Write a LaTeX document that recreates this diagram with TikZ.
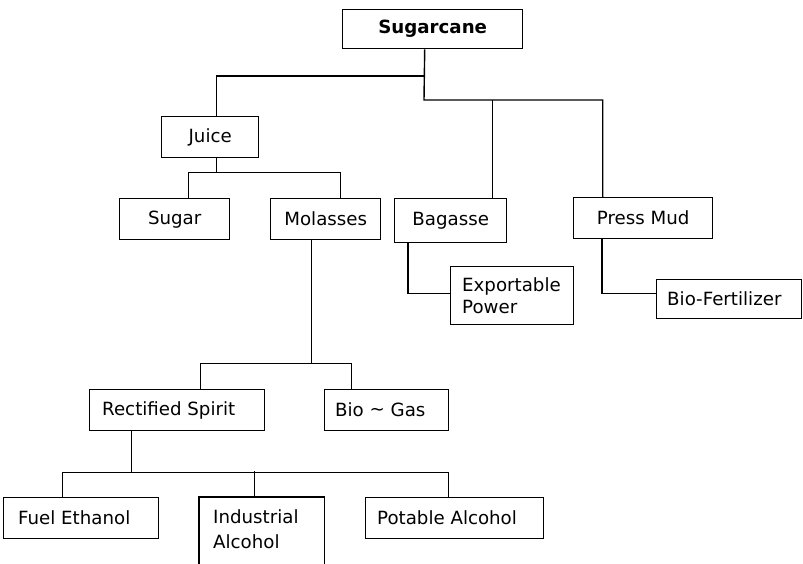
\documentclass[tikz,border=0pt]{standalone}
\usepackage{fontspec}
\setmainfont{DejaVu Sans}
\begin{document}
\begin{tikzpicture}[x=1pt,y=-1pt,
  every node/.style={font=\fontsize{18.2}{22}\selectfont},
  cbox/.style={draw, line width=1.4pt, anchor=north west, inner sep=0pt, align=center},
  ebox/.style={draw, line width=1.4pt, anchor=north west, inner sep=0pt},
  txt/.style={inner sep=0pt, align=left},
  conn/.style={line width=1.4pt}]
\useasboundingbox (0,0) rectangle (803,563);
% centred boxes
\node[cbox, minimum width=180pt, minimum height=39pt, font=\fontsize{18.2}{22}\selectfont\bfseries] (sug) at (342,9) {Sugarcane};
\node[cbox, minimum width=97pt, minimum height=41pt] (juice) at (161,116) {Juice};
\node[cbox, minimum width=110pt, minimum height=41pt] (sugar) at (119,198) {Sugar};
\node[cbox, minimum width=110pt, minimum height=41pt] (mol) at (270,198) {Molasses};
\node[cbox, minimum width=112pt, minimum height=44pt] (bag) at (394,198) {Bagasse};
\node[cbox, minimum width=139pt, minimum height=41pt] (press) at (573,197) {Press Mud};
% boxes with left-set text
\node[ebox, minimum width=123pt, minimum height=58pt] (exp) at (450,266) {};
\node[txt, anchor=west] (expT) at ([xshift=12pt]exp.west) {Exportable\\Power};
\node[ebox, minimum width=145pt, minimum height=39pt] (biof) at (656,279) {};
\node[txt, anchor=west] (biofT) at ([xshift=11pt]biof.west) {Bio-Fertilizer};
\node[ebox, minimum width=175pt, minimum height=41pt] (rect) at (89,389) {};
\node[txt, anchor=west] (rectT) at ([xshift=13pt]rect.west) {Rectified Spirit};
\node[ebox, minimum width=124pt, minimum height=41pt] (biogas) at (324,389) {};
\node[txt, anchor=west] (biogasT) at ([xshift=11pt]biogas.west) {Bio {\raisebox{0.1ex}{\char"007E}} Gas};
\node[ebox, minimum width=155pt, minimum height=41pt] (fuel) at (3,497) {};
\node[txt, anchor=west] (fuelT) at ([xshift=15pt]fuel.west) {Fuel Ethanol};
\node[ebox, draw=none, minimum width=124pt, minimum height=70pt] (ind) at (199,497) {};
\draw[conn] (ind.south west) -- (ind.north west) -- (ind.north east) -- (ind.south east);
\node[txt, anchor=north west, font=\fontsize{18.2}{25}\selectfont] (indT) at ([xshift=14pt,yshift=-12pt]ind.north west) {Industrial\\Alcohol};
\node[ebox, minimum width=178pt, minimum height=41pt] (pot) at (365,497) {};
\node[txt, anchor=west] (potT) at ([xshift=12pt]pot.west) {Potable Alcohol};
% connectors from Sugarcane
\coordinate (hub1) at (424,76);
\coordinate (hub2) at (424,100);
\draw[conn] ([xshift=-8pt]sug.south) -- (hub2) -| ([xshift=-40.5pt]press.north);
\draw[conn] (hub1) -| ([xshift=6.5pt]juice.north);
\coordinate (bagtop) at ([xshift=42pt]bag.north);
\draw[conn] (bagtop) -- (bagtop |- hub2);
% Juice
\draw[conn] ([xshift=6.5pt]juice.south) -- ++(0,14) coordinate (j2);
\draw[conn] ([xshift=14pt]sugar.north) |- (j2) -| ([xshift=15pt]mol.north);
% Molasses
\draw[conn] ([xshift=-14pt]mol.south) -- ++(0,123) coordinate (m2);
\draw[conn] ([xshift=23.5pt]rect.north) |- (m2) -| ([xshift=-35pt]biogas.north);
% Rectified spirit
\draw[conn] ([xshift=-45.5pt]rect.south) -- ++(0,41) coordinate (r2);
\draw[conn] ([xshift=-18.5pt]fuel.north) |- (r2) -| ([xshift=-6pt]pot.north);
\draw[conn] ([xshift=-7pt]ind.north) -- ++(0,-26);
% Bagasse and Press Mud
\draw[conn] ([xshift=14pt]bag.south west) |- ([yshift=2pt]exp.west);
\draw[conn] ([xshift=29pt]press.south west) |- ([yshift=5.5pt]biof.west);
\end{tikzpicture}
\end{document}
